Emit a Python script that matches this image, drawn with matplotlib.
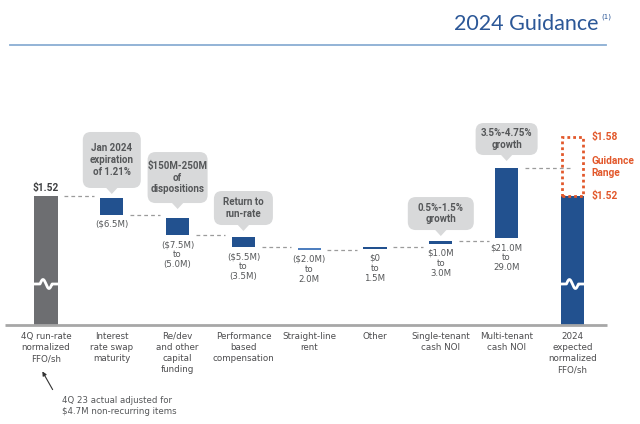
import numpy as np
import matplotlib.pyplot as plt
from matplotlib.patches import FancyBboxPatch, Polygon, Rectangle

plt.rcParams['text.parse_math'] = False
plt.rcParams['font.family'] = ['DejaVu Sans']

# ---- data ($/sh) ----
categories = ['4Q run-rate\nnormalized\nFFO/sh', 'Interest\nrate swap\nmaturity',
              'Re/dev\nand other\ncapital\nfunding', 'Performance\nbased\ncompensation',
              'Straight-line\nrent', 'Other', 'Single-tenant\ncash NOI',
              'Multi-tenant\ncash NOI', '2024\nexpected\nnormalized\nFFO/sh']
start_ffo = 1.52
guide_low = 1.52
guide_high = 1.58
axis_floor = 1.389   # broken axis, bars drawn from here

step_hi = [1.518, 1.4976, 1.4783, 1.4671, 1.4681, 1.4742, 1.5485]
step_lo = [1.5007, 1.4803, 1.4681, 1.4656, 1.4666, 1.4712, 1.4773]
step_up = [False, False, False, False, True, True, True]
step_labels = ['($6.5M)', '($7.5M)\nto\n(5.0M)', '($5.5M)\nto\n(3.5M)',
               '($2.0M)\nto\n2.0M', '$0\nto\n1.5M', '$1.0M\nto\n3.0M',
               '$21.0M\nto\n29.0M']

callout_text = {1: 'Jan 2024\nexpiration\nof 1.21%', 2: '$150M-250M\nof\ndispositions',
                3: 'Return to\nrun-rate', 6: '0.5%-1.5%\ngrowth', 7: '3.5%-4.75%\ngrowth'}
# box size (px) and gap above bar
callout_box = {1: (58, 56, 10), 2: (60, 51, 15), 3: (59, 34, 12), 6: (66, 33, 11), 7: (62, 32, 13)}

gray = '#6d6e71'
blue = '#22518f'
light_blue = '#4f7fbf'
orange = '#e2582b'
txt = '#555759'
bold_font = ['Roboto', 'DejaVu Sans']

W, H = 640, 424
fig = plt.figure(figsize=(W / 100, H / 100), dpi=100)
ax = fig.add_axes([0, 0, 1, 1])
ax.set_xlim(-0.699, 9.027)
ax.set_ylim(1.2881, 1.7194)
ax.axis('off')

ov = fig.add_axes([0, 0, 1, 1])
ov.set_xlim(0, W)
ov.set_ylim(H, 0)
ov.axis('off')


def to_px(x, y):
    d = ax.transData.transform((x, y))
    return d[0], H - d[1]


bw = 0.35
n = len(categories)

# baseline
ax.plot([-0.623, 8.526], [axis_floor, axis_floor], color='#a7a7a7', lw=2, solid_capstyle='butt')

# bars
ax.bar(0, start_ffo - axis_floor, bottom=axis_floor, width=bw, color=gray)
ax.bar(n - 1, guide_low - axis_floor, bottom=axis_floor, width=bw, color=blue)
for k in range(len(step_hi)):
    i = k + 1
    h = max(step_hi[k] - step_lo[k], 0.0015)
    c = light_blue if k == 3 else blue
    ax.bar(i, h, bottom=step_lo[k], width=bw, color=c)
    ax.annotate(step_labels[k], (i, step_lo[k]), xytext=(0, -5), textcoords='offset pixels',
                ha='center', va='top', fontsize=6.2, color=txt, linespacing=1.15)

# connectors
ends = [start_ffo] + [step_hi[k] if step_up[k] else step_lo[k] for k in range(len(step_hi))]
for i, y in enumerate(ends):
    x0 = i + bw / 2 + 0.1
    x1 = (i + 1) - bw / 2 - 0.1 if i < n - 2 else n - 1
    ax.plot([x0, x1], [y, y], color='#9b9b9b', lw=0.9, ls=(0, (3, 2.5)))

# guidance range box
ax.add_patch(Rectangle((n - 1 - bw / 2 + 0.01, guide_low), bw - 0.02, guide_high - guide_low,
                       fill=False, edgecolor=orange, lw=2, ls=(0, (1, 1.1))))
for val, lab in [(guide_high, '$1.58'), ((guide_low + guide_high) / 2, 'Guidance\nRange'),
                 (guide_low, '$1.52')]:
    ax.annotate(lab, (n - 1, val), xytext=(19, 0), textcoords='offset pixels', ha='left',
                va='center', fontsize=7.3, weight='bold', color=orange, linespacing=1.25,
                family=bold_font)

ax.annotate('$1.52', (0, start_ffo), xytext=(0, 3), textcoords='offset pixels', ha='center',
            va='bottom', fontsize=7.3, weight='bold', color='#3f4042', family=bold_font)

# category labels
for i, cat in enumerate(categories):
    ax.annotate(cat, (i, axis_floor), xytext=(0, -7), textcoords='offset pixels', ha='center',
                va='top', fontsize=6.3, color='#4d4d4f', linespacing=1.3)

# axis-break squiggles
sq_level = 1.4305
for i in [0, n - 1]:
    xl, y0 = to_px(i - bw / 2, sq_level)
    xr, _ = to_px(i + bw / 2, sq_level)
    c = (xl + xr) / 2
    xs = np.linspace(xl - 0.5, xr + 0.5, 200)
    ys = y0 + np.where(np.abs(xs - c) < 6, 4.5 * np.sin(np.pi * (xs - c) / 6), 0)
    ov.plot(xs, ys, color='white', lw=2)

# callouts
for i, text in callout_text.items():
    w, h, gap = callout_box[i]
    top = step_hi[i - 1]
    cx, by = to_px(i, top)
    bottom = by - gap
    ov.add_patch(FancyBboxPatch((cx - w / 2, bottom - h), w, h,
                                boxstyle='round,pad=0,rounding_size=8',
                                facecolor='#d8d9da', edgecolor='none'))
    ov.add_patch(Polygon([(cx - 6, bottom - 0.5), (cx + 6, bottom - 0.5), (cx, bottom + 6)],
                         closed=True, facecolor='#d8d9da', edgecolor='none'))
    ov.text(cx, bottom - h / 2, text, ha='center', va='center', fontsize=7.0, weight='bold',
            color=txt, linespacing=1.2, family=bold_font)

# title
ov.text(598, 24, '2024 Guidance', ha='right', va='center', fontsize=15.5, color='#2b5797',
        family=['Lato', 'DejaVu Sans'])
ov.text(601, 17, '(1)', ha='left', va='center', fontsize=5, color='#2b5797')
ov.plot([10, 606], [45, 45], color='#8aaed3', lw=1.3)

# footnote arrow
ov.annotate('', xy=(41, 369), xytext=(54, 392),
            arrowprops=dict(arrowstyle='-|>', color='#333333', lw=0.8, mutation_scale=6))
ov.text(62, 396, '4Q 23 actual adjusted for\n$4.7M non-recurring items', ha='left', va='top',
        fontsize=6.2, color=txt, linespacing=1.35)

fig.savefig('out.png', dpi=100)
